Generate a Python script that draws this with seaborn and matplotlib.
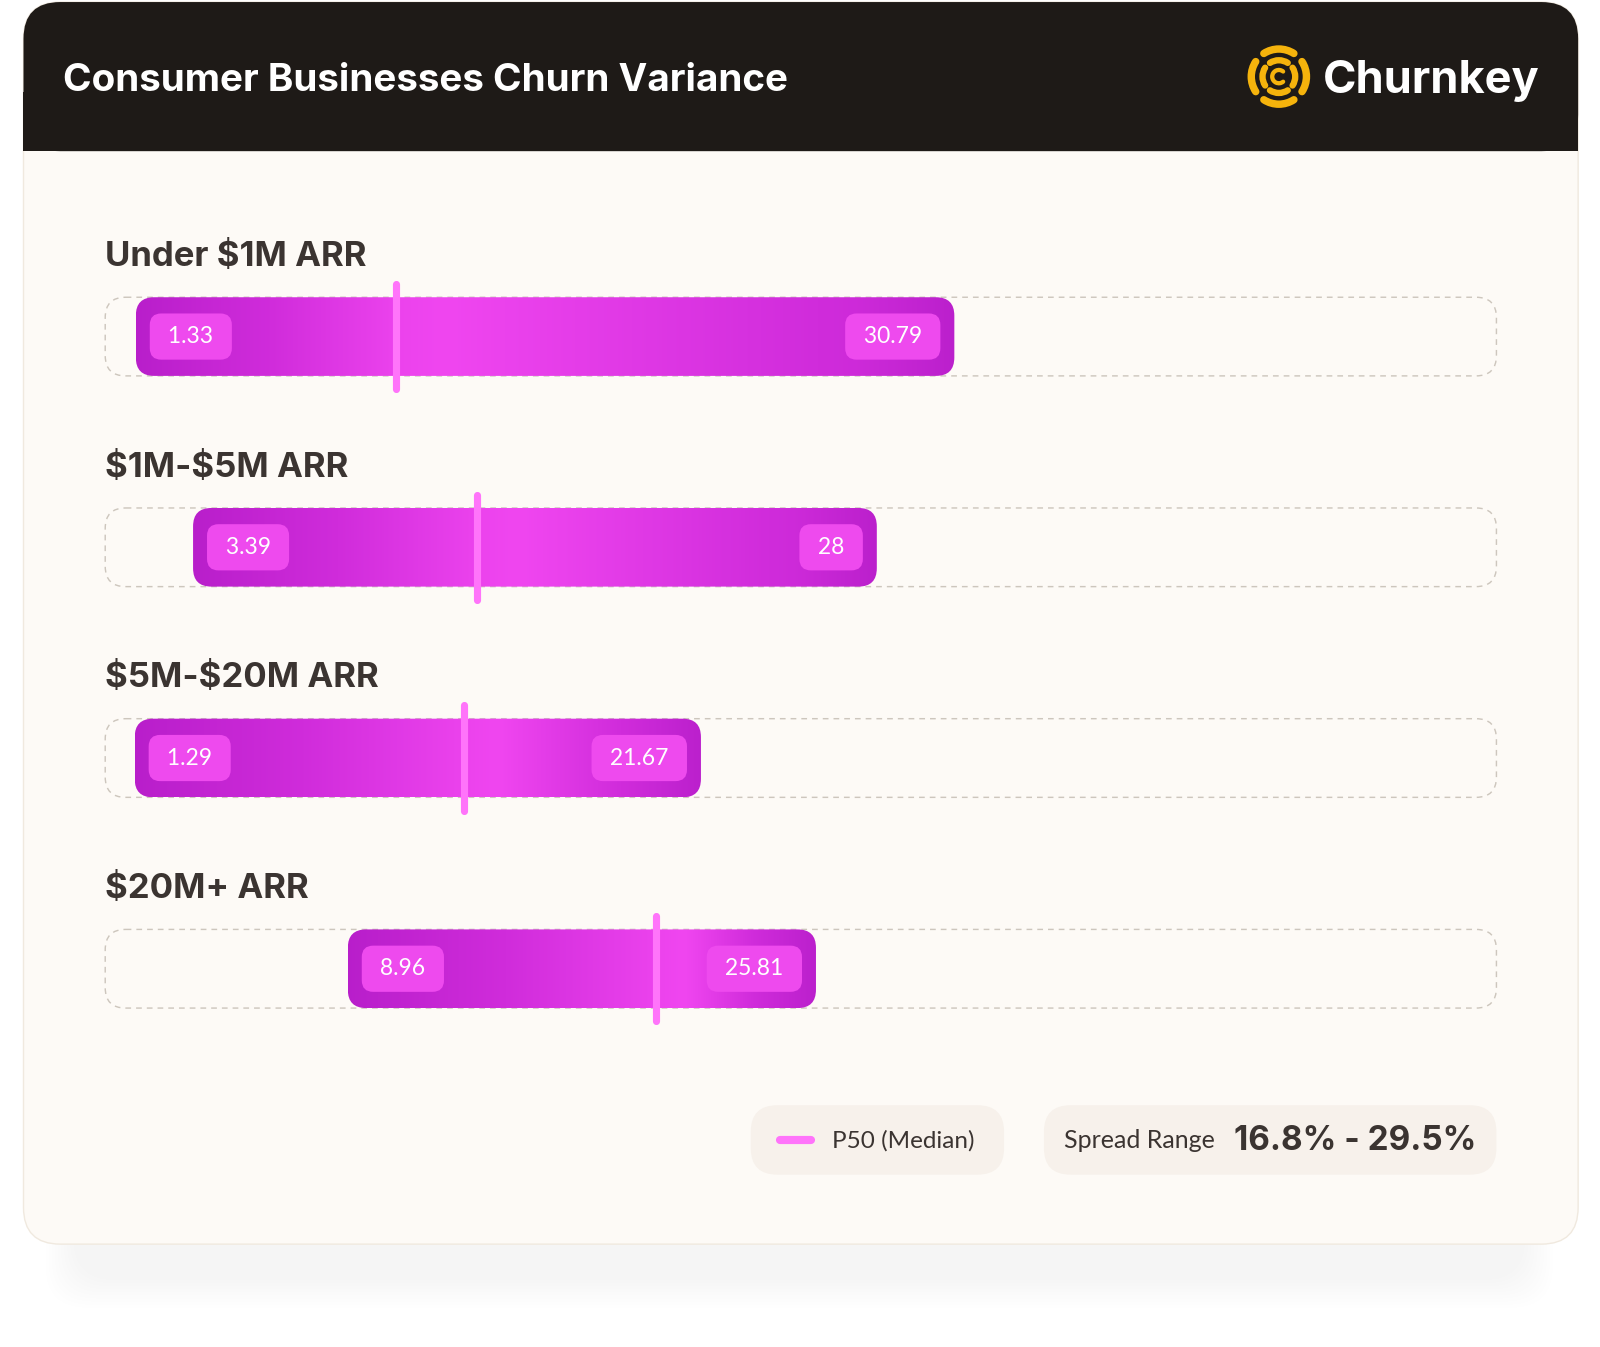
import numpy as np
import matplotlib
matplotlib.use("Agg")
import matplotlib.pyplot as plt
from matplotlib.patches import FancyBboxPatch, Rectangle, Arc
import seaborn as sns

# ============================================================================
# DATA
# ============================================================================

segments = ["Under $1M ARR", "$1M-$5M ARR", "$5M-$20M ARR", "$20M+ ARR"]
p_low = [1.33, 3.39, 1.29, 8.96]
p_high = [30.79, 28, 21.67, 25.81]
p50 = [10.7, 13.6, 13.15, 20.05]

title = "Consumer Businesses Churn Variance"
brand = "Churnkey"
legend_median = "P50 (Median)"
legend_spread = "Spread Range"

spreads = [h - l for l, h in zip(p_low, p_high)]
spread_text = f"{min(spreads):.1f}% - {max(spreads):.1f}%"

# ============================================================================
# STYLE
# ============================================================================

sns.set_theme(style="white")
plt.rcParams["font.family"] = ["Inter", "DejaVu Sans"]
plt.rcParams["text.parse_math"] = False

DARK = "#1e1a17"
CARD = "#fdfaf6"
TEXT = "#3b3431"
CHIP = "#ee4aee"
MEDIAN = "#ff74fa"
TRACK = "#cdc6bd"
GOLD = "#f5b30c"
LATO = ["Lato", "DejaVu Sans"]

bar_cmap = sns.blend_palette(["#b61dc9", "#d02cdb", "#f046f0"], as_cmap=True)

W, H, DPI = 1600, 1347, 100
S = 0.979              # layout below is measured on a 0.979-scaled view
VW, VH = W * S, H * S


def dpx(v):
    # layout pixels -> points
    return v / S * 72 / DPI


fig = plt.figure(figsize=(W / DPI, H / DPI), dpi=DPI)
fig.patch.set_facecolor("white")

# ============================================================================
# CARD BACKGROUND (layout-pixel axes)
# ============================================================================

bg = fig.add_axes([0, 0, 1, 1])
bg.set_xlim(0, VW)
bg.set_ylim(VH, 0)
bg.axis("off")

# soft shadow under the card
for k in range(10):
    bg.add_patch(FancyBboxPatch(
        (45 + k * 3, 1130 + k * 2), 1475 - k * 6, 150 - k * 5,
        boxstyle="round,pad=0,rounding_size=40",
        fc="#8a8f99", ec="none", alpha=0.006
    ))

bg.add_patch(FancyBboxPatch(
    (23, 2), 1522, 1216,
    boxstyle="round,pad=0,rounding_size=36",
    fc=CARD, ec="#f0e9df", lw=1.0
))

bg.add_patch(FancyBboxPatch(
    (23, 2), 1522, 146,
    boxstyle="round,pad=0,rounding_size=36",
    fc=DARK, ec="none"
))
bg.add_patch(Rectangle((23, 90), 1522, 58, fc=DARK, ec="none"))

bg.text(62, 79, title, color="white", fontsize=27.8, fontweight="bold",
        va="center", ha="left")

# logo mark
cx, cy = 1252, 75
for r, lw in [(27, 5.4), (16, 4.6)]:
    for a in [0, 90, 180, 270]:
        bg.add_patch(Arc((cx, cy), 2 * r, 2 * r, theta1=a - 33, theta2=a + 33,
                         color=GOLD, lw=dpx(lw * 1.35), capstyle="round"))
bg.add_patch(Arc((cx, cy), 13, 13, theta1=50, theta2=310,
                 color=GOLD, lw=dpx(4.2), capstyle="round"))

bg.text(1295, 79, brand, color="white", fontsize=32.5, fontweight="bold",
        va="center", ha="left")

# ============================================================================
# RANGE BARS (data axes)
# ============================================================================

PX_UNIT = 27.2
ZERO_PX = 96.8
TRACK_L, TRACK_R = 103, 1465
ROW0_PX, ROW_STEP = 329.5, 206.3

x0 = (TRACK_L - ZERO_PX) / PX_UNIT
x1 = (TRACK_R - ZERO_PX) / PX_UNIT
top_px = ROW0_PX - 0.5 * ROW_STEP
bot_px = ROW0_PX + 3.5 * ROW_STEP

ax = fig.add_axes([TRACK_L / VW, 1 - bot_px / VH,
                   (TRACK_R - TRACK_L) / VW, (bot_px - top_px) / VH])
ax.patch.set_alpha(0)

bar_h = 77 / ROW_STEP
aspect = PX_UNIT / ROW_STEP

for i, (seg, lo, hi, med) in enumerate(zip(segments, p_low, p_high, p50)):
    # dashed track
    ax.add_patch(FancyBboxPatch(
        (x0, i - bar_h / 2), x1 - x0, bar_h,
        boxstyle=f"round,pad=0,rounding_size={20 / PX_UNIT}",
        mutation_aspect=aspect,
        fc="none", ec=TRACK, lw=dpx(1.4), ls=(0, (4, 3.5)),
        clip_on=False, zorder=1
    ))

    # gradient bar, brightest at the median
    shape = FancyBboxPatch(
        (lo, i - bar_h / 2), hi - lo, bar_h,
        boxstyle=f"round,pad=0,rounding_size={18 / PX_UNIT}",
        mutation_aspect=aspect,
        fc="none", ec="none", zorder=2
    )
    ax.add_patch(shape)
    span = hi - lo
    xs = np.linspace(lo, hi, 400)
    shade = np.interp(xs, [lo, med, med + 0.06 * span, hi - 0.12 * span, hi],
                      [0.05, 0.93, 1.0, 0.45, 0.1])
    im = ax.imshow(shade.reshape(1, -1), cmap=bar_cmap, vmin=0, vmax=1,
                   extent=(lo, hi, i + bar_h / 2, i - bar_h / 2),
                   aspect="auto", zorder=2, interpolation="bicubic")
    im.set_clip_path(shape)

    # value chips
    chip = dict(boxstyle="round,pad=0.55,rounding_size=0.5", fc=CHIP, ec="none")
    ax.annotate(f" {lo:g} ", xy=(lo, i), xytext=(dpx(26), 0),
                textcoords="offset points", ha="left", va="center",
                fontsize=16.5, color="white", family=LATO,
                bbox=chip, zorder=4)
    ax.annotate(f" {hi:g} ", xy=(hi, i), xytext=(-dpx(26), 0),
                textcoords="offset points", ha="right", va="center",
                fontsize=16.5, color="white", family=LATO,
                bbox=chip, zorder=4)

    # median marker
    ax.plot([med, med], [i - 0.25, i + 0.25], color=MEDIAN, lw=dpx(7),
            solid_capstyle="round", zorder=5)

    # segment label
    ax.text(x0, i - 0.378, seg, fontsize=25, fontweight="bold", color=TEXT,
            ha="left", va="center")

ax.set_xlim(x0, x1)
ax.set_ylim(3.5, -0.5)
ax.axis("off")

# ============================================================================
# LEGEND
# ============================================================================

bg.add_patch(FancyBboxPatch(
    (735, 1082), 248, 68, boxstyle="round,pad=0,rounding_size=26",
    fc="#f7f1eb", ec="none"
))
bg.plot([764, 794], [1116, 1116], color=MEDIAN, lw=dpx(8), solid_capstyle="round")
bg.text(815, 1117, legend_median, fontsize=17.5, color=TEXT, va="center",
        ha="left", family=LATO)

bg.add_patch(FancyBboxPatch(
    (1022, 1082), 443, 68, boxstyle="round,pad=0,rounding_size=26",
    fc="#f7f1eb", ec="none"
))
bg.text(1042, 1117, legend_spread, fontsize=18, color=TEXT, va="center",
        ha="left", family=LATO)
bg.text(1445, 1117, spread_text, fontsize=24, fontweight="bold", color=TEXT,
        va="center", ha="right")

fig.savefig("out.png", dpi=DPI, facecolor="white")
